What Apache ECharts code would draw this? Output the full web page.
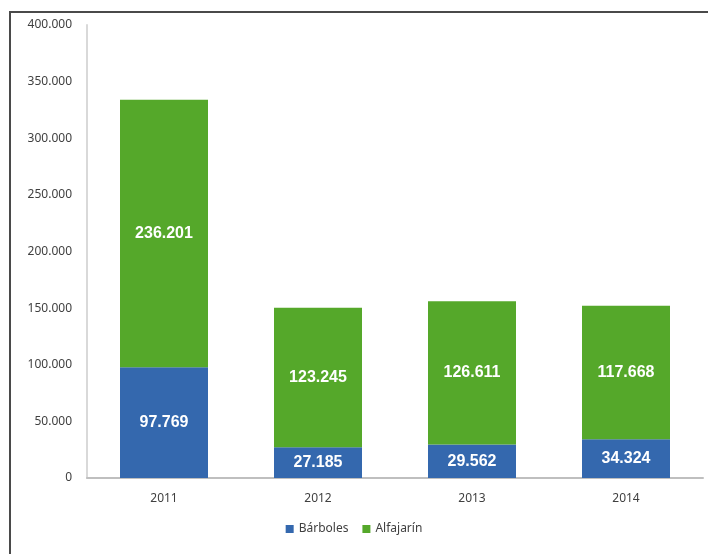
<!DOCTYPE html>
<html>
<head>
<meta charset="utf-8">
<script src="https://cdn.jsdelivr.net/npm/echarts@6/dist/echarts.min.js"></script>
<style>
html,body{margin:0;padding:0;background:#fff;}
#frame{position:absolute;left:9px;top:11px;width:699px;height:543px;border-top:2px solid #4a4a4a;border-left:2px solid #4a4a4a;box-sizing:border-box;}
#chart{position:absolute;left:0;top:0;width:708px;height:554px;}
</style>
</head>
<body>
<div id="frame"></div>
<div id="chart"></div>
<script>
const categories = ['2011', '2012', '2013', '2014'];
const barboles = [97769, 27185, 29562, 34324];
const alfajarin = [236201, 123245, 126611, 117668];
const seriesNames = ['Bárboles', 'Alfajarín'];

function fmt(v) {
  return String(Math.round(v)).replace(/\B(?=(\d{3})+(?!\d))/g, '.');
}

const chart = echarts.init(document.getElementById('chart'));
const labelStyle = {
  show: true,
  position: 'inside',
  color: '#ffffff',
  fontWeight: 'bold',
  fontSize: 16,
  fontFamily: 'Liberation Sans, Arial, sans-serif',
  formatter: p => fmt(p.value)
};
chart.setOption({
  animation: false,
  backgroundColor: 'transparent',
  grid: { left: 87, right: 5, top: 25, bottom: 76 },
  legend: {
    bottom: 14,
    left: 'center',
    itemWidth: 8,
    itemHeight: 8,
    itemGap: 14,
    icon: 'rect',
    textStyle: { color: '#404040', fontSize: 12, fontFamily: 'Noto Sans, sans-serif' },
    data: seriesNames
  },
  xAxis: {
    type: 'category',
    data: categories,
    axisLine: { lineStyle: { color: '#bfbfbf', width: 2 } },
    axisTick: { show: false },
    axisLabel: { color: '#404040', fontSize: 12, margin: 15, fontFamily: 'Noto Sans, sans-serif' }
  },
  yAxis: {
    type: 'value',
    min: 0,
    max: 400000,
    interval: 50000,
    axisLine: { show: true, lineStyle: { color: '#d9d9d9', width: 2 } },
    axisTick: { show: false },
    splitLine: { show: false },
    axisLabel: { color: '#404040', fontSize: 12, margin: 15, fontFamily: 'Noto Sans, sans-serif', formatter: v => fmt(v) }
  },
  series: [
    {
      name: seriesNames[0], type: 'bar', stack: 'total', data: barboles,
      barWidth: 88, itemStyle: { color: '#3468AE' }, label: labelStyle
    },
    {
      name: seriesNames[1], type: 'bar', stack: 'total', data: alfajarin,
      barWidth: 88, itemStyle: { color: '#55A82A' }, label: labelStyle
    }
  ]
});
</script>
</body>
</html>
